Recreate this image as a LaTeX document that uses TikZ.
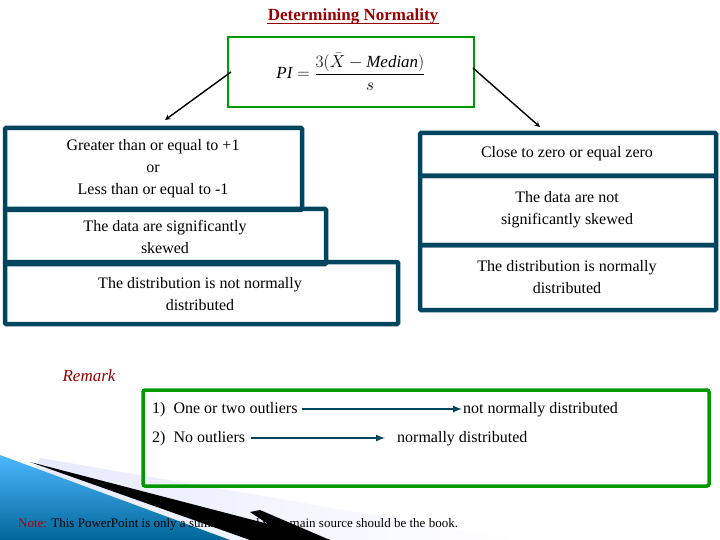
\documentclass[tikz,border=0pt]{standalone}
\usepackage{fontspec}
\setmainfont{Liberation Serif}
\begin{document}
\begin{tikzpicture}[x=1pt,y=-1pt,
  tb/.style={draw=teal!60!black!90!blue, line width=4.5pt, rounded corners=1pt},
  txt/.style={font=\fontsize{16}{18}\selectfont, align=center, inner sep=0pt},
  ar/.style={-stealth, line width=1.4pt}]
\useasboundingbox (0,0) rectangle (720,540);
\fill[white] (0,0) rectangle (720,540);
% bottom-left decoration
\shade[left color=cyan!10!blue!10, right color=white] (40,458) -- (520,540) -- (0,540) -- cycle;
\shade[top color=cyan!60!blue!70, bottom color=teal!80!blue] (0,455) -- (230,540) -- (0,540) -- cycle;
\fill[black] (30,462) -- (330,540) -- (250,540) -- cycle;
% title
\node[font=\bfseries\fontsize{17}{20}\selectfont, text=red!60!black, inner sep=1pt] (title) at (353,16) {Determining Normality};
\draw[red!60!black, line width=1pt] ([yshift=1pt]title.south west) -- ([yshift=1pt]title.south east);
% formula
\node[draw=green!60!black, line width=2.5pt, minimum width=246pt, minimum height=70pt] (f) at (351,72) {};
\node[font=\fontsize{17}{20}\selectfont] (fx) at (351,72) {$\displaystyle \mathit{PI}=\frac{3(\bar X-\mathit{Median})}{s}$};
% left boxes
\draw[tb] (5,128) rectangle (302,210);
\draw[tb] (5,209) rectangle (326,264);
\draw[tb] (5,262) rectangle (398,324);
\node[txt] (l1) at (153,169) {Greater than or equal to +1\\[4pt]or\\[4pt]Less than or equal to -1};
\node[txt] (l2) at (165,237) {The data are significantly\\[4pt]skewed};
\node[txt] (l3) at (200,294) {The distribution is not normally\\[4pt]distributed};
% right boxes
\draw[tb] (420,133) rectangle (716,176);
\draw[tb] (420,176) rectangle (716,245);
\draw[tb] (420,245) rectangle (716,310);
\node[txt] (r1) at (567,154) {Close to zero or equal zero};
\node[txt] (r2) at (567,210) {The data are not\\[4pt]significantly skewed};
\node[txt] (r3) at (567,277) {The distribution is normally\\[4pt]distributed};
% arrows
\coordinate (a1) at (165,120);
\coordinate (a2) at (540,127);
\draw[ar] (231,72) -- (a1);
\draw[ar] (473,68) -- (a2);
% remark
\node[font=\itshape\fontsize{17}{20}\selectfont, text=red!60!black] (rem) at (89,376) {Remark};
\draw[green!60!black, line width=3.5pt, rounded corners=2pt] (143,390) rectangle (709,486);
\node[txt, anchor=west] (o1) at (152,410) {1)\ \ One or two outliers};
\node[txt, anchor=west] (o2) at (152,439) {2)\ \ No outliers};
\node[txt, anchor=west] (n1) at (463,410) {not normally distributed};
\node[txt, anchor=west] (n2) at (397,439) {normally distributed};
\draw[-latex, line width=2pt, teal!60!black!90!blue] ([xshift=4pt,yshift=1pt]o1.east) -- ([xshift=-1pt,yshift=1pt]n1.west);
\draw[-latex, line width=2pt, teal!60!black!90!blue] ([xshift=6pt,yshift=1pt]o2.east) -- ([xshift=-12pt,yshift=1pt]n2.west);
% note
\node[font=\fontsize{13}{15}\selectfont, anchor=west, inner sep=0pt] (note) at (18,524) {\textcolor{red!70!black}{Note:} This PowerPoint is only a summary and your main source should be the book.};
\fill[black] (250,512) -- (292,540) -- (330,540) -- (260,510) -- cycle;
\end{tikzpicture}
\end{document}
